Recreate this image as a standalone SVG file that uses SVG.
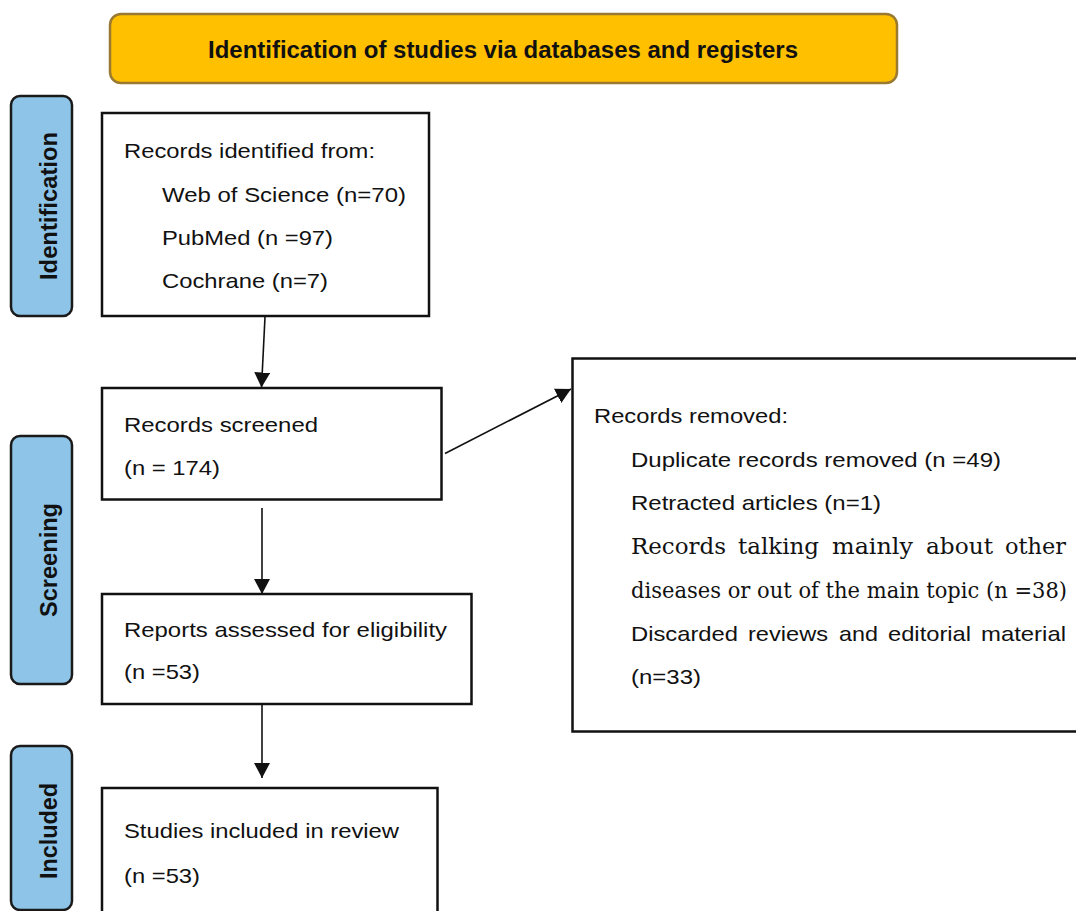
<svg xmlns="http://www.w3.org/2000/svg" width="1076" height="911" viewBox="0 0 1076 911">
<defs>
<style>
.box{fill:#fff;stroke:#111;stroke-width:2.5}
.side{fill:#8EC4E8;stroke:#1a1a1a;stroke-width:2.5}
.t{font-family:"Liberation Sans",Arial,sans-serif;font-size:21px;fill:#111}
.s{font-family:"DejaVu Serif","Liberation Serif",serif;font-size:22.5px;fill:#111}
.lab{font-family:"Liberation Sans",Arial,sans-serif;font-size:23px;font-weight:bold;fill:#111}
.title{font-family:"Liberation Sans",Arial,sans-serif;font-size:23px;font-weight:bold;fill:#111}
.conn{stroke:#111;stroke-width:1.6;fill:none}
</style>
<marker id="ah" viewBox="0 0 15 16" refX="15" refY="8" markerWidth="15" markerHeight="16" markerUnits="userSpaceOnUse" orient="auto">
<path d="M0,0 L15,8 L0,16 z" fill="#111"/>
</marker>
</defs>
<rect width="1076" height="911" fill="#fff"/>

<g id="header">
<rect x="110" y="14" width="787" height="69" rx="11" fill="#FFC000" stroke="#9A7A30" stroke-width="2.5"/>
<text class="title" x="208" y="58.3" textLength="590" lengthAdjust="spacingAndGlyphs">Identification of studies via databases and registers</text>
</g>

<g id="side-identification">
<rect class="side" x="11" y="96" width="61" height="220" rx="9"/>
<text class="lab" transform="translate(56.5,206) rotate(-90)" text-anchor="middle" textLength="148" lengthAdjust="spacingAndGlyphs">Identification</text>
</g>
<g id="side-screening">
<rect class="side" x="11" y="436" width="61" height="248" rx="9"/>
<text class="lab" transform="translate(56.5,560) rotate(-90)" text-anchor="middle" textLength="114" lengthAdjust="spacingAndGlyphs">Screening</text>
</g>
<g id="side-included">
<rect class="side" x="11" y="746" width="61" height="164" rx="9"/>
<text class="lab" transform="translate(56.5,831) rotate(-90)" text-anchor="middle" textLength="96" lengthAdjust="spacingAndGlyphs">Included</text>
</g>

<g id="records-identified">
<rect class="box" x="102" y="113" width="327" height="203"/>
<text class="t" x="124" y="158" textLength="251" lengthAdjust="spacingAndGlyphs">Records identified from:</text>
<text class="t" x="162" y="201.5" textLength="244" lengthAdjust="spacingAndGlyphs">Web of Science (n=70)</text>
<text class="t" x="162" y="245" textLength="171" lengthAdjust="spacingAndGlyphs">PubMed (n =97)</text>
<text class="t" x="162" y="288" textLength="166" lengthAdjust="spacingAndGlyphs">Cochrane (n=7)</text>
</g>

<g id="records-screened">
<rect class="box" x="102" y="388" width="339.5" height="111.5"/>
<text class="t" x="124" y="432" textLength="194" lengthAdjust="spacingAndGlyphs">Records screened</text>
<text class="t" x="124" y="475" textLength="96" lengthAdjust="spacingAndGlyphs">(n = 174)</text>
</g>

<g id="reports-assessed">
<rect class="box" x="102" y="594" width="369.5" height="110"/>
<text class="t" x="124" y="637" textLength="323" lengthAdjust="spacingAndGlyphs">Reports assessed for eligibility</text>
<text class="t" x="124" y="679" textLength="76" lengthAdjust="spacingAndGlyphs">(n =53)</text>
</g>

<g id="studies-included">
<rect class="box" x="102" y="788" width="335.5" height="140"/>
<text class="t" x="124" y="838" textLength="275" lengthAdjust="spacingAndGlyphs">Studies included in review</text>
<text class="t" x="124" y="883" textLength="76" lengthAdjust="spacingAndGlyphs">(n =53)</text>
</g>

<g id="records-removed">
<rect class="box" x="572.5" y="358.5" width="520" height="373"/>
<text class="t" x="594" y="422.5" textLength="194" lengthAdjust="spacingAndGlyphs">Records removed:</text>
<text class="t" x="631" y="466.5" textLength="370" lengthAdjust="spacingAndGlyphs">Duplicate records removed (n =49)</text>
<text class="t" x="631" y="510" textLength="250" lengthAdjust="spacingAndGlyphs">Retracted articles (n=1)</text>
<text class="s" x="631" y="554" textLength="95" lengthAdjust="spacingAndGlyphs">Records</text>
<text class="s" x="738" y="554" textLength="81" lengthAdjust="spacingAndGlyphs">talking</text>
<text class="s" x="832" y="554" textLength="81" lengthAdjust="spacingAndGlyphs">mainly</text>
<text class="s" x="926" y="554" textLength="67" lengthAdjust="spacingAndGlyphs">about</text>
<text class="s" x="1005" y="554" textLength="61" lengthAdjust="spacingAndGlyphs">other</text>
<text class="s" x="631" y="598" textLength="436" lengthAdjust="spacingAndGlyphs">diseases or out of the main topic (n =38)</text>
<text class="t" x="631" y="641" textLength="107" lengthAdjust="spacingAndGlyphs">Discarded</text>
<text class="t" x="748" y="641" textLength="80" lengthAdjust="spacingAndGlyphs">reviews</text>
<text class="t" x="839" y="641" textLength="39" lengthAdjust="spacingAndGlyphs">and</text>
<text class="t" x="888" y="641" textLength="83" lengthAdjust="spacingAndGlyphs">editorial</text>
<text class="t" x="981" y="641" textLength="85" lengthAdjust="spacingAndGlyphs">material</text>
<text class="t" x="631" y="684" textLength="70" lengthAdjust="spacingAndGlyphs">(n=33)</text>
</g>

<g id="connectors">
<line class="conn" x1="265" y1="317" x2="261.5" y2="387.5" marker-end="url(#ah)"/>
<line class="conn" x1="262" y1="508" x2="262" y2="594" marker-end="url(#ah)"/>
<line class="conn" x1="262" y1="705" x2="262" y2="778" marker-end="url(#ah)"/>
<line class="conn" x1="445" y1="453.5" x2="571" y2="389" marker-end="url(#ah)"/>
</g>
</svg>
